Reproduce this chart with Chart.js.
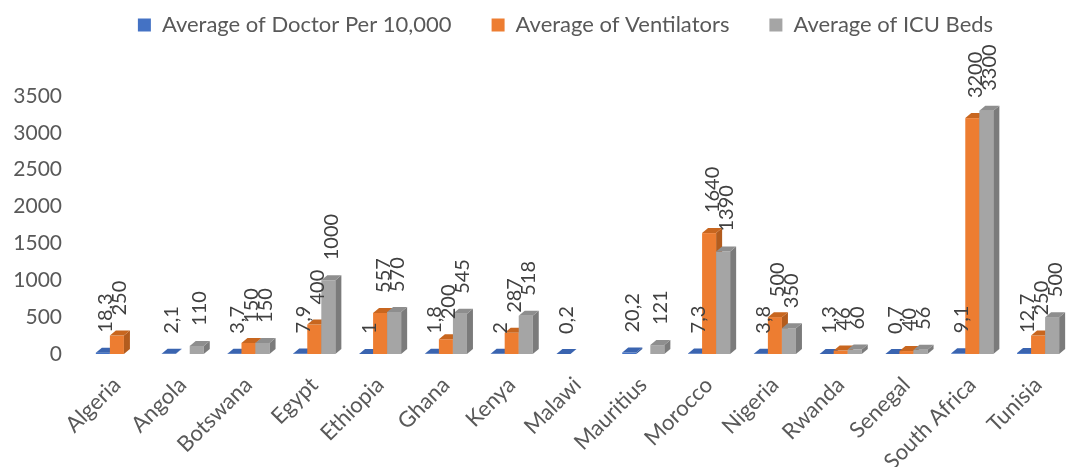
<!DOCTYPE html>
<html>
<head>
<meta charset="utf-8">
<script src="https://cdn.jsdelivr.net/npm/chart.js@4"></script>
<style>
  html, body { margin: 0; padding: 0; background: #fff; }
  #wrap { width: 1078px; height: 467px; }
</style>
</head>
<body>
<div id="wrap"><canvas id="chart" width="1078" height="467"></canvas></div>
<script>
  // -------------------------
  // Data
  // -------------------------
  const countries = ["Algeria", "Angola", "Botswana", "Egypt", "Ethiopia", "Ghana", "Kenya", "Malawi",
    "Mauritius", "Morocco", "Nigeria", "Rwanda", "Senegal", "South Africa", "Tunisia"];
  const doctorsPer10k = [18.3, 2.1, 3.7, 7.9, 1, 1.8, 2, 0.2, 20.2, 7.3, 3.8, 1.3, 0.7, 9.1, 12.7];
  const ventilators = [250, null, 150, 400, 557, 200, 287, null, null, 1640, 500, 46, 40, 3200, 250];
  const icuBeds = [null, 110, 150, 1000, 570, 545, 518, null, 121, 1390, 350, 60, 56, 3300, 500];
  const yTicks = [0, 500, 1000, 1500, 2000, 2500, 3000, 3500];

  const FONT = "Lato";
  const TEXT = "#595959";
  const LEGEND_PAD = 40;

  // front / side / top colours per series
  const faces = [
    { front: "#4472C4", side: "#2F5597", top: "#3A64B0" },
    { front: "#ED7D31", side: "#B35C1E", top: "#C8661F" },
    { front: "#A5A5A5", side: "#7B7B7B", top: "#8E8E8E" }
  ];
  const DX = 6, DY = -5;

  function fmt(v) {
    return String(v).replace(".", ",");
  }

  // draws the 3D-ish bars and the rotated value labels
  const bars3d = {
    id: "bars3d",
    beforeDatasetDraw: function () {
      return false; // bars are drawn below, in series order
    },
    afterDatasetsDraw: function (chart) {
      const ctx = chart.ctx;
      ctx.save();
      chart.data.datasets.forEach(function (ds, di) {
        const meta = chart.getDatasetMeta(di);
        const f = faces[di];
        meta.data.forEach(function (bar, i) {
          if (ds.data[i] === null || ds.data[i] === undefined) return;
          const p = bar.getProps(["x", "y", "base", "width"], true);
          const l = p.x - p.width / 2, r = p.x + p.width / 2;
          const top = Math.min(p.y, p.base), bot = Math.max(p.y, p.base);
          ctx.fillStyle = f.front;
          ctx.fillRect(l, top, r - l, bot - top);
          ctx.fillStyle = f.side;
          ctx.beginPath();
          ctx.moveTo(r, top);
          ctx.lineTo(r + DX, top + DY);
          ctx.lineTo(r + DX, bot + DY);
          ctx.lineTo(r, bot);
          ctx.closePath();
          ctx.fill();
          ctx.fillStyle = f.top;
          ctx.beginPath();
          ctx.moveTo(l, top);
          ctx.lineTo(r, top);
          ctx.lineTo(r + DX, top + DY);
          ctx.lineTo(l + DX, top + DY);
          ctx.closePath();
          ctx.fill();
        });
      });
      // value labels, rotated
      ctx.fillStyle = "#404040";
      ctx.font = "20px " + FONT;
      ctx.textAlign = "left";
      ctx.textBaseline = "middle";
      chart.data.datasets.forEach(function (ds, di) {
        const meta = chart.getDatasetMeta(di);
        meta.data.forEach(function (bar, i) {
          const v = ds.data[i];
          if (v === null || v === undefined) return;
          const p = bar.getProps(["x", "y"], true);
          ctx.save();
          ctx.translate(p.x + 3, p.y - 20);
          ctx.rotate(-Math.PI / 2);
          ctx.fillText(fmt(v), 0, 0);
          ctx.restore();
        });
      });
      ctx.restore();
    }
  };

  // fixed legend box height; the big item padding is only wanted horizontally
  const legendTweak = {
    id: "legendTweak",
    beforeInit: function (chart) {
      const lg = chart.legend;
      const fit = lg.fit;
      const draw = lg.draw;
      lg.fit = function () {
        fit.bind(lg)();
        this.height = 96;
      };
      lg.draw = function () {
        const ctx = chart.ctx;
        ctx.save();
        ctx.translate(30, -(LEGEND_PAD - 14));
        draw.bind(lg)();
        ctx.restore();
      };
    }
  };

  new Chart(document.getElementById("chart"), {
    type: "bar",
    data: {
      labels: countries,
      datasets: [
        { label: "Average of Doctor Per 10,000", data: doctorsPer10k, backgroundColor: faces[0].front },
        { label: "Average of Ventilators", data: ventilators, backgroundColor: faces[1].front },
        { label: "Average of ICU Beds", data: icuBeds, backgroundColor: faces[2].front }
      ]
    },
    options: {
      responsive: false,
      animation: false,
      layout: { padding: { left: 0, right: 7, top: 0, bottom: 0 } },
      datasets: { bar: { categoryPercentage: 0.64, barPercentage: 1 } },
      plugins: {
        legend: {
          position: "top",
          labels: {
            boxWidth: 13,
            boxHeight: 13,
            padding: LEGEND_PAD,
            color: TEXT,
            font: { family: FONT, size: 22 }
          }
        },
        tooltip: { enabled: false }
      },
      scales: {
        x: {
          grid: { display: false, drawTicks: false },
          border: { display: false },
          ticks: {
            color: TEXT,
            font: { family: FONT, size: 22 },
            minRotation: 45,
            maxRotation: 45,
            padding: 18
          },
          afterFit: function (scale) { scale.height = 113; }
        },
        y: {
          min: 0,
          max: 3500,
          grid: { display: false, drawTicks: false },
          border: { display: false },
          afterBuildTicks: function (scale) {
            scale.ticks = yTicks.map(function (v) { return { value: v }; });
          },
          ticks: {
            color: TEXT,
            font: { family: FONT, size: 21 },
            padding: 22,
            callback: function (v) { return String(v); }
          },
          afterFit: function (scale) { scale.width = 84; }
        }
      }
    },
    plugins: [legendTweak, bars3d]
  });
</script>
</body>
</html>
